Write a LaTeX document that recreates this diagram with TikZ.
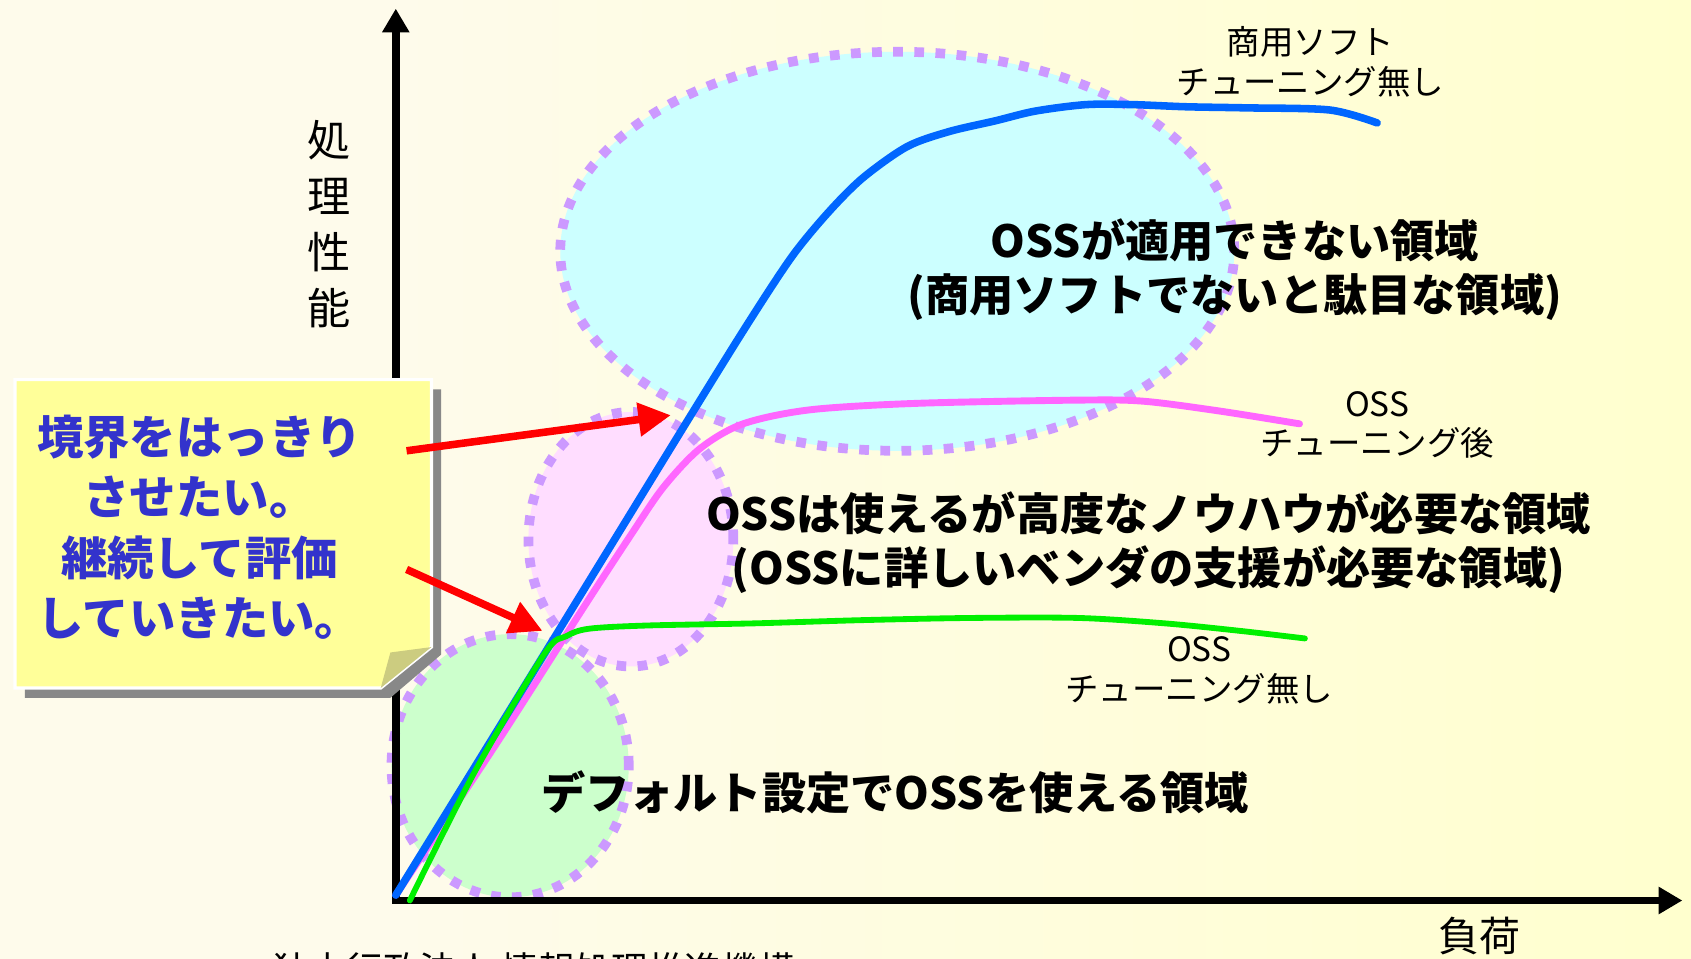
\documentclass[tikz,border=0pt]{standalone}
\usepackage{fontspec}
\setmainfont{Noto Sans CJK JP}
\usetikzlibrary{arrows.meta,shapes.geometric}

\definecolor{cream}{RGB}{254,251,235}
\definecolor{paleyellow}{RGB}{255,255,206}
\definecolor{zoneedge}{RGB}{204,153,255}
\definecolor{cyanzone}{RGB}{204,255,255}
\definecolor{pinkzone}{RGB}{255,221,255}
\definecolor{greenzone}{RGB}{204,255,204}
\definecolor{commblue}{RGB}{0,102,255}
\definecolor{tunedpink}{RGB}{255,102,255}
\definecolor{plaingreen}{RGB}{0,240,0}
\definecolor{memoyellow}{RGB}{255,255,153}
\definecolor{memotext}{RGB}{51,51,204}
\definecolor{memofold}{RGB}{204,204,128}
\definecolor{memoshadow}{RGB}{136,136,136}

\begin{document}
\begin{tikzpicture}[x=0.5pt, y=-0.5pt,
    zone/.style={ellipse, draw=zoneedge, line width=4.5pt, dash pattern=on 4.5pt off 5.3pt, inner sep=0pt},
    lbl/.style={align=center, font=\fontsize{15.5pt}{18.5pt}\selectfont},
    big/.style={align=center, font=\fontsize{20.5pt}{25pt}\selectfont\bfseries},
    curve/.style={line width=3.5pt, line cap=round, line join=round},
    pointer/.style={-{Triangle[length=15pt,width=15pt]}, red, line width=3.5pt},
    axis/.style={{Triangle[length=11pt,width=12pt]}-{Triangle[length=11pt,width=12pt]}, line width=3.5pt}]
\clip (0,0) rectangle (1568,889);
\fill[cream] (0,0) rectangle (1568,889);
\shade[left color=cream, right color=paleyellow] (367,0) rectangle (1568,889);

% regions
\node[zone, fill=greenzone, minimum width=110pt, minimum height=122pt] (easy) at (473,710) {};
\node[zone, fill=pinkzone, minimum width=95pt, minimum height=118pt] (hard) at (585,500) {};
\node[zone, fill=cyanzone, minimum width=312.5pt, minimum height=185pt] (noss) at (832,233) {};

% axes
\coordinate (origin) at (367,835);
\coordinate (ytip) at (367,8);
\coordinate (xtip) at (1560,835);
\draw[axis] (ytip) -- (origin) -- (xtip);
\node[align=center, font=\fontsize{20pt}{26pt}\selectfont] (perf) at (305,208) {処\\理\\性\\能};
\node[font=\fontsize{19pt}{19pt}\selectfont] (load) at (1372,868) {負荷};

% curves
\draw[curve, tunedpink, line width=3.2pt] plot[smooth] coordinates {(367,830) (460,690) (540,565) (585,496) (615,452) (649,416) (689,393) (751,380) (850,374) (1000,371) (1060,372) (1130,381) (1205,393)};
\draw[curve, commblue] plot[smooth] coordinates {(367,830) (505,606) (640,386) (696,296) (735,237) (768,197) (800,165) (841,136) (880,122) (923,112) (960,103) (1007,97) (1050,97) (1100,99) (1155,100) (1233,102) (1277,114)};
\draw[curve, plaingreen, line width=2.7pt] plot[smooth] coordinates {(380,835) (440,716) (505,606) (525,590) (546,583) (600,580) (700,578) (800,575) (900,573) (1000,573) (1080,578) (1150,585) (1210,592)};

% labels
\node[lbl] (comm) at (1215,57) {商用ソフト\\チューニング無し};
\node[big] (ngtext) at (1145,250) {OSSが適用できない領域\\(商用ソフトでないと駄目な領域)};
\node[lbl] (tuned) at (1277,394) {OSS\\チューニング後};
\node[big] (hardtext) at (1065,503) {OSSは使えるが高度なノウハウが必要な領域\\(OSSに詳しいベンダの支援が必要な領域)};
\node[lbl] (plain) at (1112,622) {OSS\\チューニング無し};
\node[big] (easytext) at (830,735) {デフォルト設定でOSSを使える領域};

% memo
\fill[memoshadow] (23,361) -- (409,361) -- (409,607) -- (362,647) -- (23,647) -- cycle;
\draw[white, line width=1.5pt, fill=memoyellow] (14,352) -- (400,352) -- (400,600) -- (353,638) -- (14,638) -- cycle;
\fill[memofold] (353,638) -- (362,605) -- (400,600) -- cycle;
\node[align=center, text=memotext, font=\fontsize{21.5pt}{28pt}\selectfont\bfseries] (memo) at (185,489) {境界をはっきり\\させたい。\\継続して評価\\していきたい。};

\coordinate (p1) at (377,418);
\coordinate (q1) at (622,385);
\coordinate (p2) at (377,528);
\coordinate (q2) at (503,585);
\draw[pointer] (p1) -- (q1);
\draw[pointer] (p2) -- (q2);

\node[anchor=north west, inner sep=0pt, font=\fontsize{17pt}{17pt}\selectfont] (org) at (253,883) {独立行政法人 情報処理推進機構};
\end{tikzpicture}
\end{document}
